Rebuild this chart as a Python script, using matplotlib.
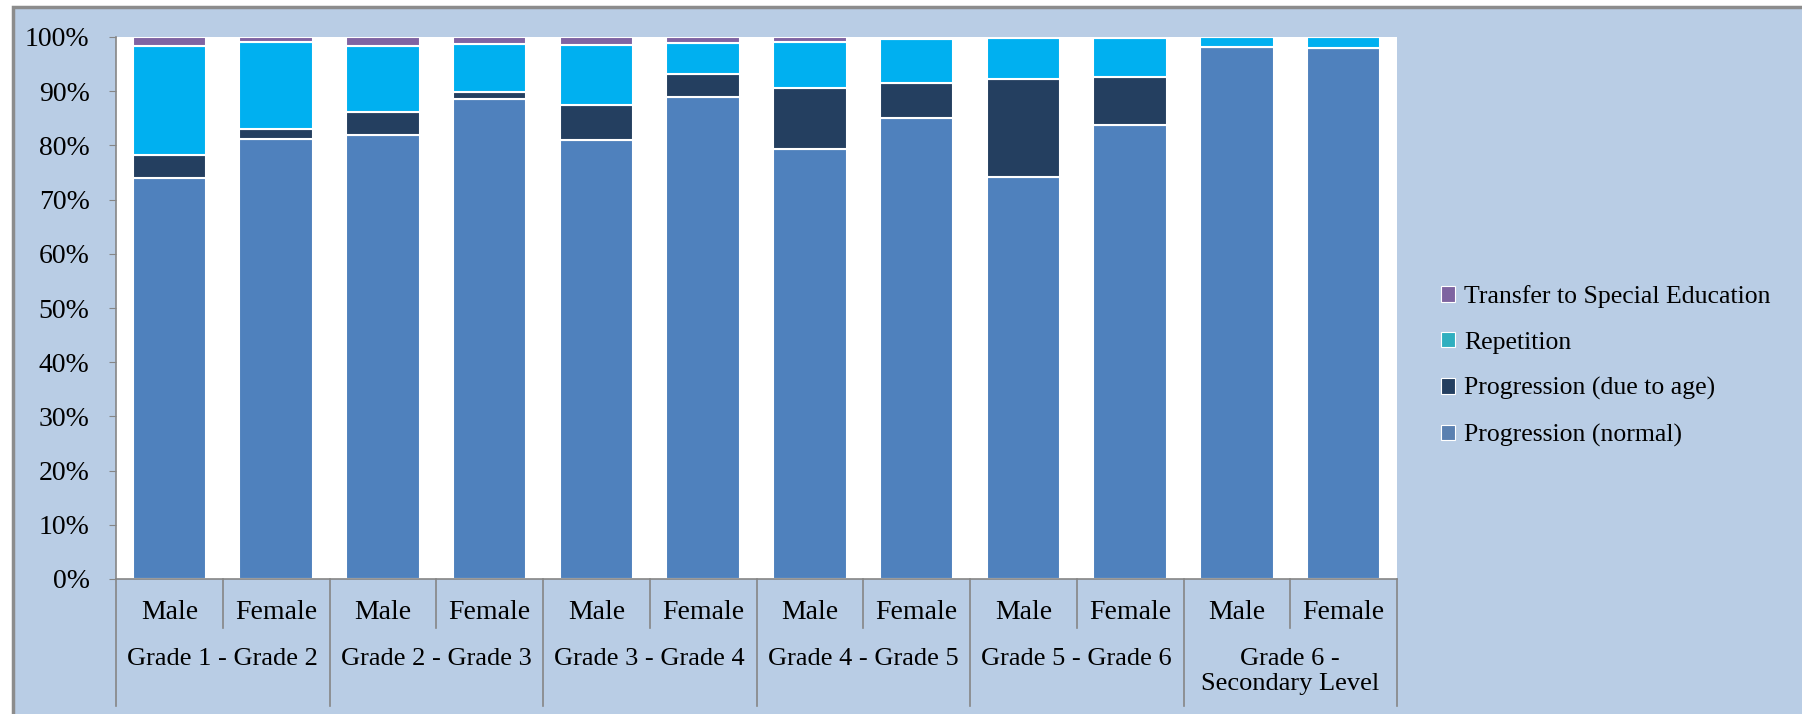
import numpy as np
import matplotlib
matplotlib.use("Agg")
import matplotlib.pyplot as plt
from matplotlib.patches import Patch, Rectangle

plt.rcParams['font.family'] = ['Liberation Serif', 'DejaVu Serif']

# data (percent of pupils)
groups = ["Grade 1 - Grade 2", "Grade 2 - Grade 3", "Grade 3 - Grade 4",
          "Grade 4 - Grade 5", "Grade 5 - Grade 6", "Grade 6 -\nSecondary Level"]
sexes = ["Male", "Female"]
prog_normal = [73.9, 81.1, 81.9, 88.6, 81.0, 89.0, 79.3, 85.1, 74.2, 83.8, 98.2, 97.9]
prog_age = [4.3, 1.9, 4.2, 1.2, 6.5, 4.2, 11.2, 6.5, 18.1, 8.9, 0.0, 0.0]
repetition = [20.2, 16.0, 12.2, 9.0, 11.0, 5.7, 8.5, 8.0, 7.5, 7.2, 1.8, 2.1]
transfer = [1.6, 1.0, 1.7, 1.2, 1.5, 1.1, 1.0, 0.4, 0.2, 0.1, 0.0, 0.0]

series = [prog_normal, prog_age, repetition, transfer]
names = ["Progression (normal)", "Progression (due to age)", "Repetition",
         "Transfer to Special Education"]
bar_colors = ["#4F81BD", "#243F60", "#00B0F0", "#8064A2"]
legend_colors = ["#5A80B0", "#243F60", "#2FAFBF", "#7E64A0"]

W, H = 1802, 714
fig = plt.figure(figsize=(W / 100, H / 100), dpi=100)
fig.patch.set_facecolor("white")
fig.patches.append(Rectangle((13 / W, -0.02), 1.05, 1 - 7 / H + 0.02,
                             transform=fig.transFigure, facecolor="#B9CDE5",
                             edgecolor="#8C8C8C", linewidth=2.5, zorder=-5))

ax = fig.add_axes([116 / W, 1 - 579 / H, (1397 - 116) / W, (579 - 37) / H])
ax.set_facecolor("white")

x = np.arange(len(prog_normal))
bottom = np.zeros(len(x))
for vals, col in zip(series, bar_colors):
    v = np.array(vals)
    ax.bar(x, v, 0.69, bottom=bottom, color=col, edgecolor="white", linewidth=1.5)
    bottom += v

ax.set_xlim(-0.5, len(x) - 0.5)
ax.set_ylim(0, 100)
ax.set_yticks(np.arange(0, 101, 10))
ax.set_yticklabels([f"{t}%" for t in range(0, 101, 10)], fontsize=20)
ax.tick_params(axis="y", length=5, color="#868686", pad=14)
ax.set_xticks([])
for s in ["top", "right"]:
    ax.spines[s].set_visible(False)
for s in ["left", "bottom"]:
    ax.spines[s].set_color("#868686")
    ax.spines[s].set_linewidth(1.2)

# two-level category axis
tr = ax.get_xaxis_transform()
for i in range(len(x)):
    ax.text(i, -0.061, sexes[i % 2], transform=tr, ha="center", va="center", fontsize=20)
for edge in np.arange(-0.5, len(x), 1.0):
    k = int(edge + 0.5)
    low = -0.2343 if k % 2 == 0 else -0.0904
    ax.plot([edge, edge], [0, low], transform=tr, color="#868686", lw=1.2, clip_on=False)
for g, name in enumerate(groups):
    ax.text(2 * g + 0.5, -0.127, name, transform=tr, ha="center", va="top",
            fontsize=19, linespacing=1.2)

handles = [Patch(facecolor=c, edgecolor="white", linewidth=0.8) for c in legend_colors]
leg = fig.legend(handles[::-1], names[::-1], loc="center left",
                 bbox_to_anchor=(1418 / W, 1 - 366 / H), frameon=False, fontsize=18.5,
                 handlelength=0.55, handleheight=0.55, handletextpad=0.35,
                 labelspacing=0.92)

fig.savefig("out.png", dpi=100)
